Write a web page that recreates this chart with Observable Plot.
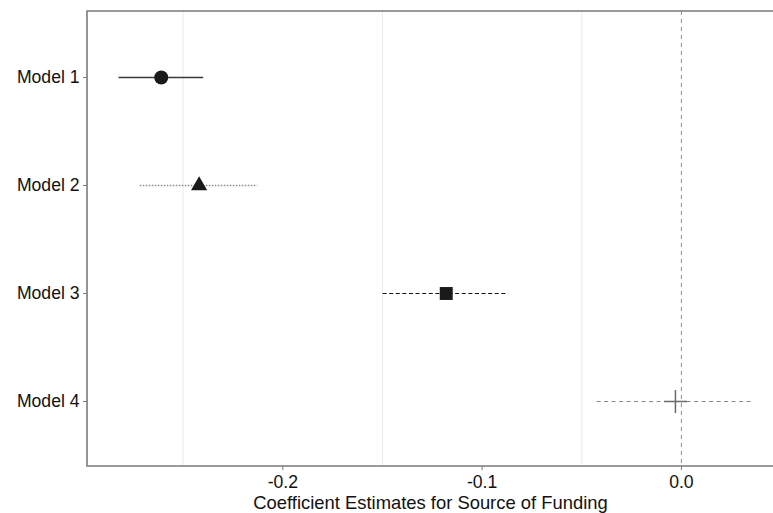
<!DOCTYPE html>
<html>
<head>
<meta charset="utf-8">
<script src="https://cdn.jsdelivr.net/npm/d3@7"></script>
<script src="https://cdn.jsdelivr.net/npm/@observablehq/plot@0.6"></script>
<style>
  html, body { margin: 0; padding: 0; background: #ffffff; }
  #chart { width: 773px; height: 513px; overflow: hidden; }
</style>
</head>
<body>
<div id="chart"></div>
<script>
// ---- data ----
const models = ["Model 1", "Model 2", "Model 3", "Model 4"];
const estimates = [-0.261, -0.242, -0.118, -0.003];
const lower = [-0.2822, -0.2715, -0.1497, -0.0423];
const upper = [-0.2397, -0.2126, -0.0867, 0.036];
const xTicks = [-0.2, -0.1, 0.0];
const minorGrid = [-0.25, -0.15, -0.05];
const xDomain = [-0.298, 0.0462];
const xTitle = "Coefficient Estimates for Source of Funding";

// ---- styles ----
const symbols = ["circle", "triangle", "square", "plus"];
const radii = [7, 6, 7.3, 7.5];
const lineColors = ["#3a3a3a", "#8a8a8a", "#111111", "#8a8a8a"];
const lineDashes = [null, "1.5,1.5", "4,2.6", "4,3.5"];
const lineWidths = [1.3, 1.3, 1.2, 1.2];

const rows = models.map((m, i) => ({model: m, est: estimates[i], lo: lower[i], hi: upper[i]}));

const frameLines = (index, scales, values, dims) => {
  const {width, height, marginLeft, marginTop, marginBottom, marginRight} = dims;
  const g = d3.create("svg:g");
  const x0 = marginLeft, x1 = width - marginRight, y0 = marginTop, y1 = height - marginBottom;
  g.append("path")
    .attr("d", `M${x1 + 2},${y0}H${x0}V${y1}H${x1 + 2}`)
    .attr("fill", "none")
    .attr("stroke", "#7a7a7a")
    .attr("stroke-width", 1.6);
  return g.node();
};

const marks = [
  Plot.ruleX(minorGrid, {stroke: "#ebebeb", strokeWidth: 1}),
  Plot.ruleX([0], {stroke: "#9a9a9a", strokeWidth: 1.1, strokeDasharray: "4,4"}),
];
rows.forEach((r, i) => {
  marks.push(Plot.ruleY([r], {
    y: "model", x1: "lo", x2: "hi",
    stroke: lineColors[i], strokeWidth: lineWidths[i],
    strokeDasharray: lineDashes[i] ?? undefined
  }));
});
rows.forEach((r, i) => {
  const isPlus = symbols[i] === "plus";
  marks.push(Plot.dot([r], {
    x: "est", y: "model", symbol: symbols[i], r: radii[i],
    fill: isPlus ? "none" : "#1a1a1a",
    stroke: isPlus ? "#6a6a6a" : "none",
    strokeWidth: isPlus ? 1.5 : 0
  }));
});
marks.push(frameLines);
marks.push(Plot.text([xTitle], {
  text: d => d, frameAnchor: "bottom", dy: 37, lineAnchor: "middle",
  fontSize: 18.4, fill: "#111111"
}));

const chart = Plot.plot({
  width: 773,
  height: 513,
  marginLeft: 87,
  marginRight: 0,
  marginTop: 11,
  marginBottom: 47,
  style: {
    fontFamily: "'Liberation Sans', Arial, sans-serif",
    fontSize: "17.6px",
    color: "#111111",
    background: "#ffffff",
    overflow: "hidden"
  },
  x: {
    domain: xDomain,
    ticks: xTicks,
    tickFormat: d => d.toFixed(1),
    tickSize: 4,
    tickPadding: 5,
    label: null
  },
  y: {
    type: "point",
    domain: models,
    padding: 0.6,
    tickSize: 4,
    tickPadding: 4,
    label: null
  },
  marks
});

d3.select(chart).selectAll("g[aria-label^='x-axis'] line, g[aria-label^='y-axis'] line, g[aria-label^='x-axis'] path, g[aria-label^='y-axis'] path")
  .attr("stroke", "#7a7a7a");

document.getElementById("chart").appendChild(chart);
</script>
</body>
</html>
